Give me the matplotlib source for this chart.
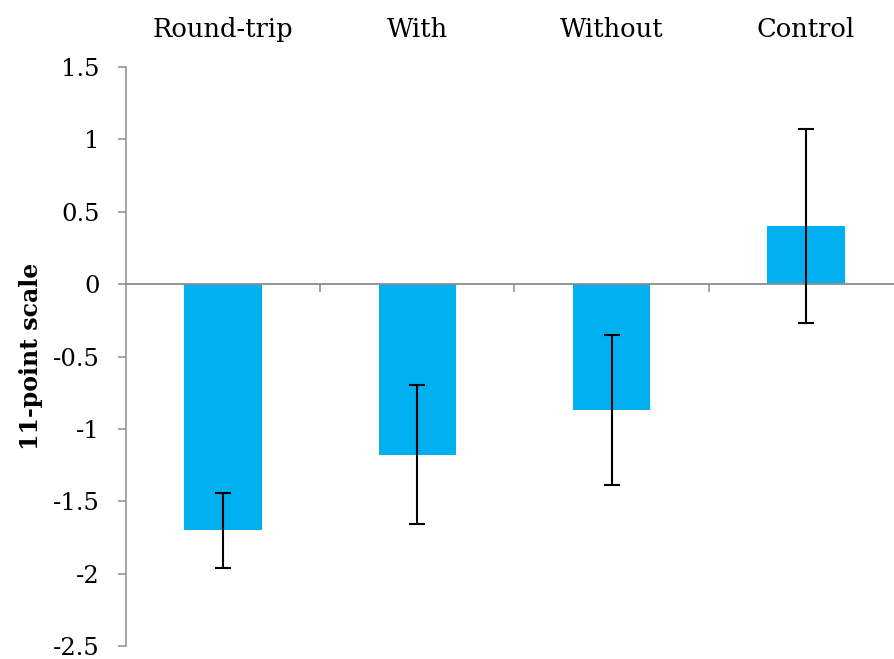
import matplotlib
matplotlib.use("Agg")
import matplotlib.pyplot as plt
import numpy as np

categories = ["Round-trip", "With", "Without", "Control"]
means = [-1.70, -1.18, -0.87, 0.40]
errors = [0.26, 0.48, 0.52, 0.67]
yticks = [-2.5, -2, -1.5, -1, -0.5, 0, 0.5, 1, 1.5]
ytick_labels = ["-2.5", "-2", "-1.5", "-1", "-0.5", "0", "0.5", "1", "1.5"]

plt.rcParams['font.family'] = ['DejaVu Serif']
axis_col = "#8c8c8c"

fig = plt.figure(figsize=(8.95, 6.59), dpi=100)
ax = fig.add_axes([126/895, 1-646/659, 777/895, (646-67)/659])

x = np.arange(len(categories))
ax.bar(x, means, width=0.4, color="#00B0F0", zorder=2)
ax.errorbar(x, means, yerr=errors, fmt="none", ecolor="black", elinewidth=1.5,
            capsize=5.5, capthick=1.5, zorder=3)

ax.set_xlim(-0.5, len(categories) - 0.5)
ax.set_ylim(-2.5, 1.5)
ax.set_yticks(yticks)
ax.set_yticklabels(ytick_labels, fontsize=17.5)
ax.tick_params(axis='y', direction='out', length=6, width=1.1, color=axis_col, pad=13)

for s in ['top', 'right']:
    ax.spines[s].set_visible(False)
ax.spines['left'].set_color(axis_col)
ax.spines['left'].set_linewidth(1.1)
ax.spines['bottom'].set_position(('data', 0))
ax.spines['bottom'].set_color(axis_col)
ax.spines['bottom'].set_linewidth(1.3)
ax.set_xticks(x[:-1] + 0.5)
ax.set_xticklabels([])
ax.tick_params(axis='x', direction='out', length=6, width=1.1, color=axis_col)

sec = ax.secondary_xaxis('top')
sec.set_xticks(x)
sec.set_xticklabels(categories, fontsize=18.5)
sec.tick_params(length=0, pad=18)
sec.spines['top'].set_visible(False)

ax.set_ylabel("11-point scale", fontsize=17, fontweight='bold', labelpad=7)

fig.savefig("out.png", dpi=100)
